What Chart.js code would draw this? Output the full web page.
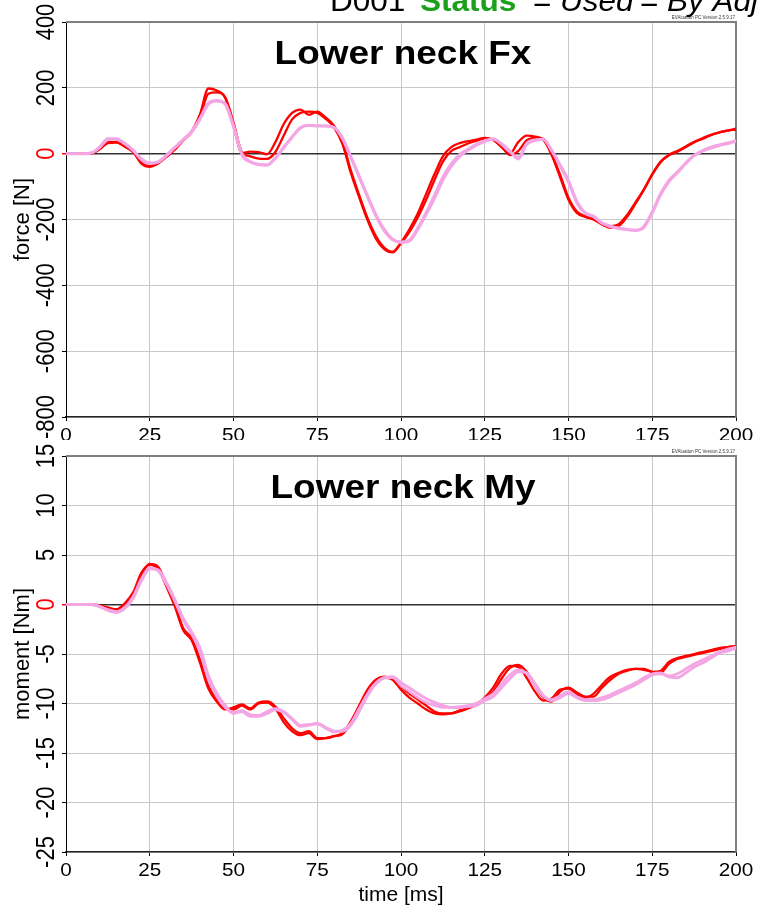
<!DOCTYPE html>
<html>
<head>
<meta charset="utf-8">
<script src="https://cdn.jsdelivr.net/npm/chart.js@4.4.1/dist/chart.umd.min.js"></script>
<style>
  html, body { margin: 0; padding: 0; background: #fff; width: 757px; height: 906px; overflow: hidden; }
  canvas { position: absolute; left: 0; display: block; }
  #fxCanvas { top: 0; width: 757px; height: 440px; }
  #myCanvas { top: 440px; width: 757px; height: 466px; }
</style>
</head>
<body>
<canvas id="fxCanvas" width="757" height="440"></canvas>
<canvas id="myCanvas" width="757" height="466"></canvas>
<script>
// Sample times (ms)
const timeMs = [0,2.5,5,7.5,10,12.5,15,17.5,20,22.5,25,27.5,30,32.5,35,37.5,40,42.5,45,47.5,
  50,52.5,55,57.5,60,62.5,65,67.5,70,72.5,75,77.5,80,82.5,85,87.5,90,92.5,95,97.5,
  100,102.5,105,107.5,110,112.5,115,117.5,120,122.5,125,127.5,130,132.5,135,137.5,140,142.5,145,147.5,
  150,152.5,155,157.5,160,162.5,165,167.5,170,172.5,175,177.5,180,182.5,185,187.5,190,192.5,195,197.5,200];

// Lower neck Fx [N]
const fxRedA = [0,0,0,1,15,35,36,22,5,-28,
  -38,-28,-8,15,42,68,120,198,192,170,
  85,2,6,5,-2,35,90,124,134,118,
  128,110,85,38,-50,-125,-195,-250,-285,-298,
  -270,-230,-182,-122,-62,-8,20,32,38,43,
  48,42,20,0,35,55,52,42,-5,-72,
  -140,-180,-192,-200,-212,-220,-214,-186,-148,-108,
  -62,-24,-3,8,22,36,47,57,64,70,
  73];
const fxRedB = [0,0,0,1,13,32,34,22,6,-30,
  -40,-30,-10,12,40,65,110,182,186,172,
  95,5,-8,-15,-16,5,55,104,124,128,
  124,106,80,30,-58,-132,-202,-258,-290,-300,
  -272,-238,-194,-140,-80,-24,8,20,31,39,
  46,42,22,-4,8,40,48,45,-2,-64,
  -134,-176,-190,-200,-215,-225,-220,-192,-152,-110,
  -64,-26,-5,6,20,34,45,56,65,70,
  76];
const fxPinkA = [0,0,0,2,20,45,44,30,10,-18,
  -30,-26,-6,18,42,66,105,150,160,152,
  85,0,-24,-32,-35,-14,18,50,78,86,
  84,84,80,48,-8,-68,-128,-185,-230,-260,
  -270,-266,-230,-185,-135,-80,-38,-8,10,26,
  37,44,30,8,-16,28,40,44,10,-34,
  -82,-145,-180,-190,-210,-220,-226,-230,-233,-224,
  -180,-125,-85,-58,-30,-6,8,17,25,31,
  38];
const fxPinkB = [0,0,0,2,18,42,46,32,12,-15,
  -28,-24,-4,20,44,68,108,155,162,150,
  80,-5,-26,-34,-34,-12,20,52,80,86,
  85,84,80,45,-12,-72,-132,-190,-235,-262,
  -268,-262,-225,-178,-125,-70,-30,-2,14,30,
  40,46,28,5,-10,32,42,43,8,-38,
  -88,-150,-182,-192,-212,-222,-228,-231,-233,-220,
  -176,-120,-80,-55,-28,-4,10,20,27,33,
  40];

// Lower neck My [Nm]
const myRedA = [0,0,0,0,-0.2,-0.4,-0.5,0.1,1.2,3.2,
  4.0,3.6,1.8,-0.2,-2.6,-3.6,-5.9,-8.5,-9.8,-10.6,
  -10.4,-10.1,-10.5,-9.9,-9.8,-10.3,-11.5,-12.5,-13.0,-12.8,
  -13.5,-13.5,-13.3,-13.1,-12.0,-10.6,-9.0,-7.8,-7.4,-7.5,
  -8.3,-9.0,-9.6,-10.2,-10.8,-11.0,-11.0,-10.7,-10.4,-10.0,
  -9.6,-8.8,-7.5,-6.4,-6.1,-6.8,-8.2,-9.4,-9.8,-8.8,
  -8.4,-8.9,-9.3,-9.3,-8.4,-7.6,-7.0,-6.7,-6.5,-6.5,
  -6.8,-6.9,-6.0,-5.5,-5.3,-5.1,-4.9,-4.7,-4.5,-4.3,
  -4.2];
const myRedB = [0,0,0,0,-0.1,-0.3,-0.5,0.0,1.0,3.0,
  4.1,3.8,2.0,0.0,-2.4,-3.4,-5.6,-8.2,-9.6,-10.5,
  -10.6,-10.2,-10.6,-10.0,-9.9,-10.5,-11.9,-12.8,-13.2,-13.0,
  -13.6,-13.5,-13.3,-13.0,-11.8,-10.2,-8.6,-7.6,-7.3,-7.6,
  -8.6,-9.4,-10.0,-10.6,-11.0,-11.1,-11.0,-10.8,-10.5,-10.1,
  -9.4,-8.4,-7.0,-6.2,-6.3,-7.4,-8.8,-9.7,-9.5,-8.6,
  -8.5,-9.1,-9.4,-9.0,-8.1,-7.3,-6.9,-6.6,-6.5,-6.6,
  -6.8,-6.7,-5.8,-5.4,-5.2,-5.0,-4.8,-4.6,-4.4,-4.3,
  -4.2];
const myPinkA = [0,0,0,0,-0.2,-0.6,-0.8,-0.4,0.6,2.4,
  3.6,3.5,2.2,0.5,-1.4,-2.8,-4.4,-7.2,-9.0,-10.2,
  -11.0,-10.8,-11.3,-11.3,-11.0,-10.6,-10.9,-11.6,-12.3,-12.2,
  -12.0,-12.4,-12.8,-12.8,-12.2,-10.8,-9.2,-8.0,-7.4,-7.3,
  -7.9,-8.4,-9.0,-9.5,-9.9,-10.2,-10.4,-10.4,-10.3,-10.2,
  -9.7,-9.3,-8.4,-7.5,-6.8,-6.9,-8.0,-9.2,-9.7,-9.4,
  -9.0,-9.4,-9.7,-9.7,-9.6,-9.3,-8.9,-8.5,-8.1,-7.6,
  -7.1,-7.0,-7.3,-7.4,-6.9,-6.3,-5.9,-5.4,-4.9,-4.7,
  -4.4];
const myPinkB = [0,0,0,0,-0.2,-0.5,-0.7,-0.3,0.8,2.6,
  3.7,3.4,2.0,0.3,-1.6,-3.0,-4.8,-7.6,-9.3,-10.4,
  -10.9,-10.7,-11.1,-11.2,-10.8,-10.5,-10.8,-11.5,-12.2,-12.1,
  -12.1,-12.5,-12.9,-12.7,-12.0,-10.5,-9.0,-7.9,-7.4,-7.4,
  -8.2,-8.8,-9.4,-9.9,-10.2,-10.4,-10.4,-10.3,-10.2,-10.0,
  -9.5,-9.0,-8.0,-7.1,-6.6,-7.0,-8.2,-9.3,-9.6,-9.2,
  -8.8,-9.3,-9.6,-9.6,-9.4,-9.1,-8.7,-8.3,-7.9,-7.4,
  -7.0,-6.9,-7.2,-7.0,-6.5,-6.0,-5.6,-5.2,-4.8,-4.5,
  -4.3];

const FONT = 'Arial, "Liberation Sans", Helvetica, sans-serif';
const RED = '#ff0000';
const PINK = '#f4a6e4';

function hText(ctx, text, x, y, font, sx, align, color) {
  ctx.save();
  ctx.font = font; ctx.fillStyle = color;
  ctx.textAlign = align; ctx.textBaseline = 'alphabetic';
  ctx.translate(x, y); ctx.scale(sx, 1);
  ctx.fillText(text, 0, 0);
  ctx.restore();
}
function vText(ctx, text, x, y, font, sy, color) {
  ctx.save();
  ctx.font = font; ctx.fillStyle = color;
  ctx.textAlign = 'center'; ctx.textBaseline = 'alphabetic';
  ctx.translate(x, y); ctx.rotate(-Math.PI / 2); ctx.scale(1, sy);
  ctx.fillText(text, 0, 0);
  ctx.restore();
}

function panelDecor(cfg) {
  return {
    id: 'panelDecor',
    beforeDatasetsDraw(chart) {
      const ctx = chart.ctx, a = chart.chartArea;
      ctx.save();
      ctx.strokeStyle = '#7f7f7f'; ctx.lineWidth = 2;
      ctx.beginPath();
      ctx.moveTo(a.left, a.top); ctx.lineTo(a.right, a.top); ctx.lineTo(a.right, a.bottom);
      ctx.stroke();
      ctx.restore();
    },
    afterDraw(chart) {
      const ctx = chart.ctx, a = chart.chartArea;
      const xs = chart.scales.x, ys = chart.scales.y;
      ys.ticks.forEach(t => {
        vText(ctx, String(t.value), 54, ys.getPixelForValue(t.value), '22px ' + FONT, 1.15,
          t.value === 0 ? RED : '#000');
      });
      xs.ticks.forEach(t => {
        hText(ctx, String(t.value), xs.getPixelForValue(t.value), a.bottom + 24, '18px ' + FONT, 1.15, 'center', '#000');
      });
      vText(ctx, cfg.yTitle, 29, (a.top + a.bottom) / 2, '22px ' + FONT, 1.0, '#000');
      hText(ctx, cfg.title, 403, a.top + 42, 'bold 33px ' + FONT, 1.12, 'center', '#000');
      hText(ctx, 'EVAluation PC Version 2.5.9.17', a.right - 1, a.top - 3, '4.5px ' + FONT, 1.0, 'right', '#333');
      if (cfg.xTitle) {
        hText(ctx, cfg.xTitle, 401, a.bottom + 49, '21px ' + FONT, 1.0, 'center', '#000');
      }
      if (cfg.header) {
        cfg.header.forEach(s => hText(ctx, s.text, s.x, 11, s.font + ' 30px ' + FONT, 1.05, 'left', s.color));
      }
    }
  };
}

function series(vals) { return timeMs.map((t, i) => ({ x: t, y: vals[i] })); }

function makeChart(id, cfg) {
  const ds = [
    { data: series(cfg.redA), borderColor: RED, borderWidth: 2.3, order: 2 },
    { data: series(cfg.redB), borderColor: RED, borderWidth: 2.3, order: 3 },
    { data: series(cfg.pinkA), borderColor: PINK, borderWidth: 3, order: 0 },
    { data: series(cfg.pinkB), borderColor: PINK, borderWidth: 2.6, order: 1 }
  ];
  ds.forEach(d => { d.pointRadius = 0; d.fill = false; d.cubicInterpolationMode = 'monotone'; });
  return new Chart(document.getElementById(id), {
    type: 'line',
    data: { datasets: ds },
    options: {
      responsive: false, animation: false, devicePixelRatio: 1, events: [],
      layout: { padding: { top: cfg.padTop, right: 21, left: 0, bottom: 0 } },
      plugins: { legend: { display: false }, tooltip: { enabled: false }, title: { display: false } },
      scales: {
        x: {
          type: 'linear', min: 0, max: 200,
          ticks: { stepSize: 25, display: false },
          grid: { color: '#c8c8c8', lineWidth: 1, tickLength: 4, tickColor: '#000', drawTicks: true },
          border: { color: '#222', width: 1.5 },
          afterFit: s => { s.height = cfg.xHeight; }
        },
        y: {
          type: 'linear', min: cfg.yMin, max: cfg.yMax,
          ticks: { stepSize: cfg.yStep, display: false },
          grid: {
            color: c => (c.tick && c.tick.value === 0) ? '#303030' : '#c8c8c8',
            lineWidth: c => (c.tick && c.tick.value === 0) ? 1.5 : 1,
            tickLength: 4,
            tickColor: c => (c.tick && c.tick.value === 0) ? RED : '#000',
            drawTicks: true
          },
          border: { color: '#000', width: 1 },
          afterFit: s => { s.width = 66; }
        }
      }
    },
    plugins: [panelDecor(cfg)]
  });
}

makeChart('fxCanvas', {
  redA: fxRedA, redB: fxRedB, pinkA: fxPinkA, pinkB: fxPinkB,
  yMin: -800, yMax: 400, yStep: 200, padTop: 22, xHeight: 23,
  title: 'Lower neck Fx', yTitle: 'force [N]',
  header: [
    { text: 'D001', x: 330, font: 'normal', color: '#000' },
    { text: 'Status', x: 420, font: 'bold', color: '#1ca01c' },
    { text: '=', x: 533, font: 'normal', color: '#000' },
    { text: 'Used', x: 560, font: 'italic', color: '#000' },
    { text: '=', x: 640, font: 'normal', color: '#000' },
    { text: 'By Adjuster', x: 667, font: 'italic', color: '#000' }
  ]
});

makeChart('myCanvas', {
  redA: myRedA, redB: myRedB, pinkA: myPinkA, pinkB: myPinkB,
  yMin: -25, yMax: 15, yStep: 5, padTop: 16, xHeight: 54,
  title: 'Lower neck My', yTitle: 'moment [Nm]', xTitle: 'time [ms]'
});
</script>
</body>
</html>
